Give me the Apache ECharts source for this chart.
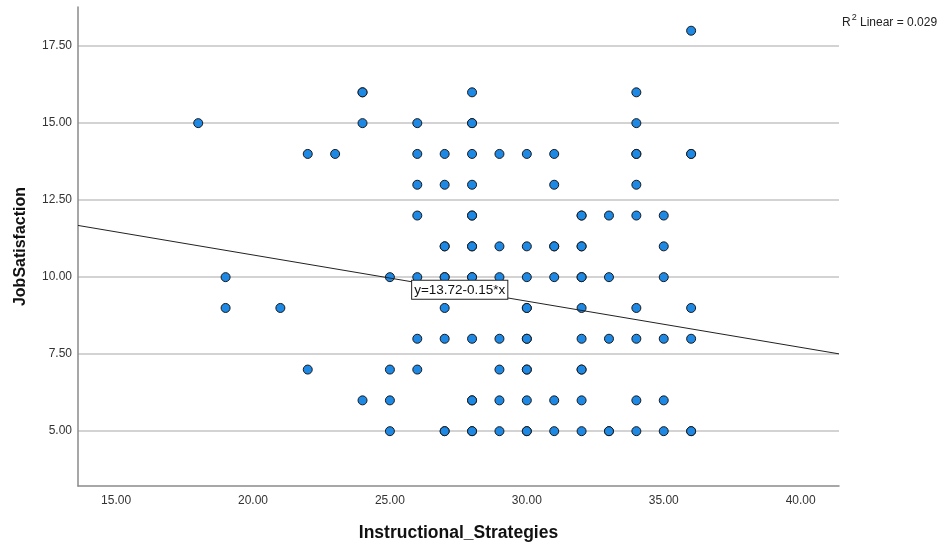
<!DOCTYPE html>
<html><head><meta charset="utf-8">
<script src="https://cdn.jsdelivr.net/npm/echarts@6/dist/echarts.min.js"></script>
<style>html,body{margin:0;padding:0;background:#fff}#c{width:937px;height:547px}</style>
</head><body><div id="c"></div>
<script>
// Tick labels
const xTicks = [15, 20, 25, 30, 35, 40];
const yTicks = [5, 7.5, 10, 12.5, 15, 17.5];
// Instructional_Strategies values observed at each JobSatisfaction level (repeats = overlapping cases)
const js18 = [36];
const js16 = [24, 24, 28, 34];
const js15 = [18, 24, 26, 28, 28, 34];
const js14 = [22, 23, 26, 27, 28, 29, 30, 31, 34, 34, 36, 36];
const js13 = [26, 27, 28, 31, 34];
const js12 = [26, 28, 28, 32, 32, 33, 34, 35];
const js11 = [27, 27, 28, 28, 29, 30, 31, 31, 32, 32, 35];
const js10 = [19, 25, 26, 27, 27, 28, 28, 29, 30, 31, 32, 32, 33, 35];
const js9 = [19, 21, 27, 30, 30, 32, 34, 36];
const js8 = [26, 27, 28, 29, 30, 30, 32, 33, 34, 35, 36];
const js7 = [22, 25, 26, 29, 30, 30, 32, 32];
const js6 = [24, 25, 28, 28, 29, 30, 31, 32, 34, 35];
const js5 = [25, 27, 27, 28, 28, 29, 30, 30, 31, 32, 33, 33, 34, 35, 36, 36];
const levels = [18, 16, 15, 14, 13, 12, 11, 10, 9, 8, 7, 6, 5];
const rows = [js18, js16, js15, js14, js13, js12, js11, js10, js9, js8, js7, js6, js5];
// Fit line
const intercept = 13.72, slope = -0.15, r2 = 0.029;
const xMin = 13.61, xMax = 41.4, yMin = 3.22, yMax = 18.77;

const points = [];
rows.forEach((r, i) => r.forEach(x => points.push([x, levels[i]])));
const fitLine = [[xMin, intercept + slope * xMin], [xMax, intercept + slope * xMax]];
const lblX = 27.55;

const chart = echarts.init(document.getElementById('c'));
const font = 'Liberation Sans, Arial, sans-serif';
chart.setOption({
  animation: false,
  backgroundColor: '#fff',
  title: {
    text: '{r|R}{s|2}{r| Linear = ' + r2.toFixed(3) + '}',
    left: 837, top: 8,
    textStyle: { fontWeight: 'normal', rich: {
      r: { fontFamily: font, fontSize: 12, fontWeight: 'normal', color: '#222', verticalAlign: 'bottom', lineHeight: 16 },
      s: { fontFamily: font, fontSize: 9, fontWeight: 'normal', color: '#222', verticalAlign: 'top', lineHeight: 16, padding: [0, 0, 6, 1] }
    } }
  },
  grid: { left: 78, right: 98, top: 7, bottom: 60, containLabel: false },
  xAxis: {
    type: 'value', min: xMin, max: xMax,
    name: 'Instructional_Strategies', nameLocation: 'middle', nameGap: 38,
    nameTextStyle: { fontFamily: font, fontSize: 17.5, fontWeight: 'bold', color: '#111' },
    axisLine: { show: true, lineStyle: { color: '#8a8a8a', width: 1.5 } },
    axisTick: { show: false, customValues: xTicks },
    axisLabel: { customValues: xTicks, formatter: v => v.toFixed(2), margin: 9,
      fontFamily: font, fontSize: 12, color: '#333' },
    splitLine: { show: false }
  },
  yAxis: {
    type: 'value', min: yMin, max: yMax,
    name: 'JobSatisfaction', nameLocation: 'middle', nameGap: 49,
    nameTextStyle: { fontFamily: font, fontSize: 16, fontWeight: 'bold', color: '#111' },
    axisLine: { show: true, lineStyle: { color: '#8a8a8a', width: 1.5 } },
    axisTick: { show: false, customValues: yTicks },
    axisLabel: { customValues: yTicks, formatter: v => v.toFixed(2), margin: 6,
      fontFamily: font, fontSize: 12, color: '#333' },
    splitLine: { show: true, lineStyle: { color: '#c4c4c4', width: 1.5 } }
  },
  series: [
    {
      type: 'scatter', data: points, symbolSize: 9, z: 2,
      itemStyle: { color: '#1e88e5', borderColor: '#1a1a1a', borderWidth: 1, opacity: 1 }
    },
    {
      type: 'line', data: fitLine, symbol: 'none', z: 3, silent: true,
      lineStyle: { color: '#222', width: 1 },
      markPoint: {
        symbol: 'rect', symbolSize: 0, silent: true,
        data: [{ coord: [lblX, intercept + slope * lblX] }],
        label: {
          show: true, position: 'inside',
          formatter: 'y=' + intercept.toFixed(2) + '-' + Math.abs(slope).toFixed(2) + '*x',
          fontFamily: font, fontSize: 13.5, color: '#111',
          backgroundColor: '#fff', borderColor: '#222', borderWidth: 1, padding: [2, 2, 2, 2]
        }
      }
    }
  ]
});
</script></body></html>
